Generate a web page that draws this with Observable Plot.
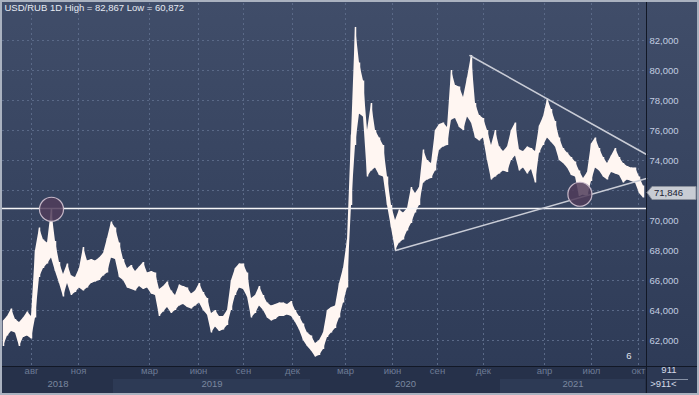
<!DOCTYPE html>
<html><head><meta charset="utf-8">
<script src="https://cdn.jsdelivr.net/npm/d3@7"></script>
<script src="https://cdn.jsdelivr.net/npm/@observablehq/plot@0.6"></script>
<style>html,body{margin:0;padding:0;background:#2b3852;overflow:hidden;}</style>
</head><body><div id="chart"></div><script>
// weekly samples (index 0..160), low / high of USD/RUB
const lows = [61.6,62.3,62.6,62.5,61.6,62.2,62.3,62.1,63.5,66.2,
66.8,67.1,67.5,66.6,65.8,64.9,65.8,65.0,65.2,65.5,
65.3,65.5,65.8,65.9,66.0,66.3,66.5,67.5,67.4,66.2,
66.0,65.5,65.4,65.3,65.6,65.4,65.5,65.1,65.0,63.6,
63.9,64.2,63.8,64.0,64.3,64.4,64.2,64.1,64.3,64.5,
64.0,63.7,62.5,62.9,62.6,62.7,63.0,64.0,65.0,65.5,
65.4,64.9,63.5,63.8,64.3,64.0,63.5,63.3,63.4,63.6,
63.6,63.7,63.6,63.2,62.7,62.0,61.6,61.3,60.9,61.0,
61.4,62.2,62.5,62.8,63.5,64.5,65.5,71.0,75.0,77.1,
76.9,72.9,73.3,73.5,73.0,72.9,71.0,69.5,68.0,68.5,
68.7,69.3,69.8,70.5,71.0,72.5,72.7,72.8,73.3,74.7,
74.9,75.0,76.7,76.8,76.2,76.0,76.9,76.5,75.5,75.3,
75.5,74.0,72.7,72.9,73.1,73.3,73.2,74.0,74.3,73.3,
73.5,73.1,73.4,72.5,74.5,75.0,75.5,75.2,74.9,74.0,
73.8,73.5,73.0,72.9,71.6,71.7,71.6,72.6,73.5,73.3,
72.9,72.7,73.2,73.1,73.0,72.5,72.7,72.6,72.5,71.8,71.5];
const highs = [63.3,63.6,64.1,63.4,63.2,63.5,63.9,63.6,68.0,69.5,
68.7,68.5,70.75,68.6,67.2,66.4,67.1,66.3,66.2,66.8,
68.2,67.3,67.4,67.3,67.5,67.8,68.8,69.9,69.5,68.5,
67.4,66.8,67.0,66.6,66.9,67.2,66.5,66.6,66.5,65.4,
65.6,65.9,65.3,65.0,65.7,65.6,65.5,65.1,65.3,65.8,
65.2,64.8,63.8,64.0,63.6,63.6,64.0,66.0,66.8,67.1,
67.1,66.5,64.8,65.0,65.6,65.0,64.5,64.3,64.4,64.5,
64.5,64.4,64.6,64.0,63.6,63.1,62.5,62.3,61.8,62.0,
62.5,64.0,64.2,64.3,65.8,66.8,68.7,75.7,82.87,80.5,
79.3,76.0,77.8,76.0,75.5,75.0,72.9,71.0,70.0,70.7,
70.5,70.8,72.2,71.8,72.2,74.7,74.0,73.8,76.0,76.4,
76.5,76.2,80.0,79.0,78.9,78.2,79.5,81.0,77.8,77.0,
76.8,76.0,75.0,76.0,74.9,74.6,74.9,76.0,76.5,74.7,
74.6,74.9,74.8,74.6,76.3,76.9,78.1,77.4,76.6,75.5,
74.8,74.5,74.2,73.9,73.3,72.8,73.2,75.1,75.5,74.8,
74.2,73.8,74.3,74.8,74.2,73.8,73.6,73.5,73.5,72.9,72.3];
const lastClose = 71.846;
const yTicks = [62,64,66,68,70,72,74,76,78,80,82];
const monthTicks = [7,18.75,36.5,48.75,60,72.25,85.5,97.25,108.5,120,135.25,147,158.75];
const monthLabels = ["авг","ноя","мар","июн","сен","дек","мар","июн","сен","дек","апр","июл","окт"];
const yearStarts = [-0.25,27.5,76.75,124.25];
const yearEnds = [27.5,76.75,124.25,160.5];
const yearLabels = ["2018","2019","2020","2021"];
const levelValue = 70.8;
const upperTrend = [{i:116.6,v:81.0},{i:160.75,v:74.4}];
const lowerTrend = [{i:98,v:68.0},{i:160.75,v:72.8}];
const marks = [{i:12,v:70.75},{i:144.1,v:71.75}];
const titleText = "USD/RUB 1D High = 82,867 Low = 60,872";

const series = lows.map((lo,i)=>({i, lo, hi: highs[i]}));
const years = yearLabels.map((label,k)=>({label, start: yearStarts[k], end: yearEnds[k], mid:(yearStarts[k]+yearEnds[k])/2}));
const fmt = d => d.toFixed(3).replace(".", ",");
const labelTicks = yTicks.filter(t => Math.abs(t - lastClose) > 1);
const W = 699, H = 395;
const grid = "#5a6987";

function chrome(index, scales, values, dim) {
  const g = d3.create("svg:g");
  const xr = dim.width - dim.marginRight, yb = dim.height - dim.marginBottom;
  g.append("rect").attr("x",0).attr("y",yb).attr("width",dim.width).attr("height",dim.marginBottom).attr("fill","#26314a");
  years.forEach((y,k)=>{ if (k%2) g.append("rect").attr("x",scales.x(y.start)).attr("y",yb+13).attr("width",scales.x(y.end)-scales.x(y.start)).attr("height",dim.marginBottom-15).attr("fill","#2d3a55"); });
  g.append("rect").attr("x",xr).attr("y",yb).attr("width",dim.marginRight).attr("height",dim.marginBottom).attr("fill","#2c3853");
  g.append("line").attr("x1",0).attr("x2",dim.width).attr("y1",yb+0.5).attr("y2",yb+0.5).attr("stroke","#121826");
  g.append("line").attr("x1",xr+0.5).attr("x2",xr+0.5).attr("y1",0).attr("y2",dim.height).attr("stroke","#121826");
  g.append("line").attr("x1",xr+17).attr("x2",xr+42).attr("y1",yb+13.5).attr("y2",yb+13.5).attr("stroke","#8892a6");
  g.append("rect").attr("x",1).attr("y",1).attr("width",dim.width-2).attr("height",dim.height-2).attr("fill","none").attr("stroke","#aab2c0").attr("stroke-width",2);
  return g.node();
}
function priceTag(index, scales, values, dim) {
  const g = d3.create("svg:g");
  const xr = dim.width - dim.marginRight, y = Math.round(scales.y(lastClose)) + 0.5;
  g.append("path").attr("d",`M${xr+1},${y} L${xr+6},${y-6} L${xr+50},${y-6} L${xr+50},${y+7} L${xr+6},${y+7} Z`).attr("fill","#c8ccd4").attr("stroke","#8a909c");
  g.append("text").attr("x",xr+8).attr("y",y+0.5).attr("dy","0.35em").attr("font-size","9.5px").attr("fill","#1b2233").attr("text-anchor","start").text(fmt(lastClose));
  return g.node();
}

const plot = Plot.plot({
  width: W, height: H,
  marginLeft: 2, marginRight: 53, marginTop: 3, marginBottom: 29,
  x: {type:"linear", domain:[-0.25,160.75], axis:null},
  y: {domain:[60.2667,84.4667], axis:null},
  style: {fontFamily:"Liberation Sans, Arial, sans-serif", fontSize:"9.5px", overflow:"visible"},
  marks: [
    Plot.gridY(yTicks, {stroke:grid, strokeOpacity:1, strokeDasharray:"2,3"}),
    Plot.gridX(monthTicks, {stroke:grid, strokeOpacity:1, strokeDasharray:"2,3"}),
    Plot.areaY(series, {x:"i", y1:"lo", y2:"hi", fill:"#fff6f2"}),
    Plot.ruleX(series, {x:"i", y1:"lo", y2:"hi", stroke:"#fff6f2", strokeWidth:1.5}),
    Plot.ruleY([levelValue], {stroke:"#f4f4f6", strokeWidth:1.5}),
    Plot.line(upperTrend, {x:"i", y:"v", stroke:"#c9ccd6", strokeWidth:1.5}),
    Plot.line(lowerTrend, {x:"i", y:"v", stroke:"#c9ccd6", strokeWidth:1.5}),
    Plot.dot(marks, {x:"i", y:"v", r:12, fill:"#503c5a", fillOpacity:0.85, stroke:"#c6b8c8", strokeWidth:1.2}),
    chrome,
    Plot.axisY(labelTicks, {anchor:"right", tickSize:0, tickPadding:3, tickFormat:fmt, fill:"#c3cde0", fontSize:9.5, textAnchor:"start"}),
    priceTag,
    Plot.text(monthTicks, {x:d=>d, text:(d,i)=>monthLabels[i], frameAnchor:"bottom", dy:7, fill:"#6d7b95", fontSize:9.5}),
    Plot.text(years, {x:"mid", text:"label", frameAnchor:"bottom", dy:20, fill:"#7a879f", fontSize:9.5}),
    Plot.text([titleText], {frameAnchor:"top-left", dx:2, dy:1, lineAnchor:"top", textAnchor:"start", fill:"#e6eaf2", fontSize:9.5}),
    Plot.text(["6"], {frameAnchor:"bottom-right", dx:-15, dy:-8, fill:"#e0e4ec", fontSize:9.5}),
    Plot.text(["911"], {frameAnchor:"bottom-right", dx:30, dy:6, fill:"#d3dae8", fontSize:9.5}),
    Plot.text([">911<"], {frameAnchor:"bottom-right", dx:30, dy:20, fill:"#d3dae8", fontSize:9.5})
  ]
});
plot.style.background = "linear-gradient(#404d69, #2d3a56)";
document.getElementById("chart").appendChild(plot);
</script></body></html>
